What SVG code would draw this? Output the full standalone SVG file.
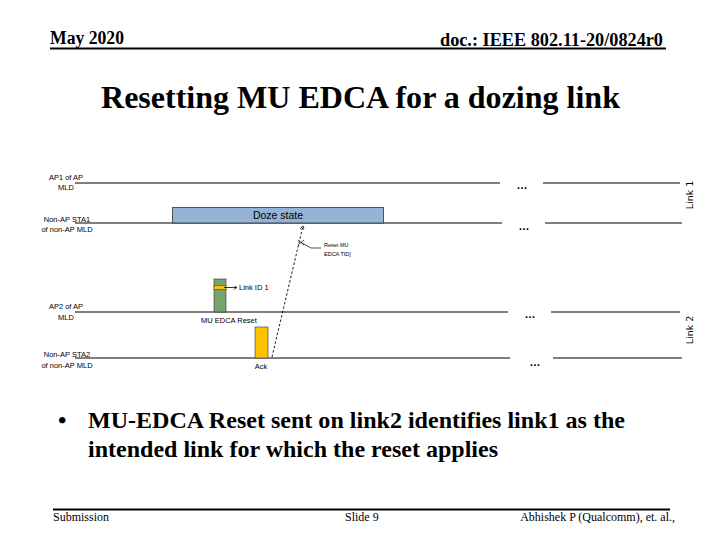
<svg xmlns="http://www.w3.org/2000/svg" width="720" height="540" viewBox="0 0 720 540">
<style>
.hdr{font-family:"Liberation Serif",serif;font-weight:bold;font-size:18px;fill:#000}
.ttl{font-family:"Liberation Serif",serif;font-weight:bold;font-size:32px;fill:#000}
.bul{font-family:"Liberation Serif",serif;font-weight:bold;font-size:24px;fill:#000}
.ftr{font-family:"Liberation Serif",serif;font-size:12px;fill:#000}
.lbl{font-family:"Liberation Sans",Arial,sans-serif;font-size:7.5px;fill:#000}
.sm{font-family:"Liberation Sans",Arial,sans-serif;font-size:5.5px;fill:#000}
.lnk{font-family:"DejaVu Sans",sans-serif;font-size:9.5px;fill:#000}
.tl{stroke:#000;stroke-width:1.2;fill:none}
.dots{font-family:"Liberation Sans",Arial,sans-serif;font-size:11px;font-weight:bold;fill:#000}
</style>
<defs>
<marker id="ah" viewBox="0 0 10 10" refX="9" refY="5" markerWidth="5" markerHeight="5" orient="auto">
<path d="M0,0 L10,5 L0,10" fill="none" stroke="#000" stroke-width="1.5"/>
</marker>
</defs>
<rect width="720" height="540" fill="#fff"/>
<g id="header">
<text class="hdr" x="50" y="44" textLength="74" lengthAdjust="spacingAndGlyphs">May 2020</text>
<text class="hdr" x="440" y="46" textLength="223" lengthAdjust="spacingAndGlyphs">doc.: IEEE 802.11-20/0824r0</text>
<line x1="50" y1="48.5" x2="666" y2="48.5" stroke="#000" stroke-width="2"/>
</g>
<g id="title">
<text class="ttl" x="101" y="108" textLength="519" lengthAdjust="spacingAndGlyphs">Resetting MU EDCA for a dozing link</text>
</g>
<g id="timelines">
<line class="tl" x1="75" y1="183" x2="500" y2="183"/>
<line class="tl" x1="543" y1="183" x2="680" y2="183"/>
<line class="tl" x1="75" y1="223" x2="502" y2="223"/>
<line class="tl" x1="545" y1="223" x2="682" y2="223"/>
<line class="tl" x1="75" y1="312" x2="508" y2="312"/>
<line class="tl" x1="551" y1="312" x2="680" y2="312"/>
<line class="tl" x1="75" y1="358" x2="510" y2="358"/>
<line class="tl" x1="553" y1="358" x2="682" y2="358"/>
<text class="dots" x="522" y="189" text-anchor="middle">…</text>
<text class="dots" x="524" y="230" text-anchor="middle">…</text>
<text class="dots" x="530" y="318" text-anchor="middle">…</text>
<text class="dots" x="535" y="366" text-anchor="middle">…</text>
</g>
<g id="labels">
<text class="lbl" x="66" y="180" text-anchor="middle">AP1 of AP</text>
<text class="lbl" x="66" y="190" text-anchor="middle">MLD</text>
<text class="lbl" x="67" y="222" text-anchor="middle">Non-AP STA1</text>
<text class="lbl" x="67" y="232" text-anchor="middle">of non-AP MLD</text>
<text class="lbl" x="66" y="309" text-anchor="middle">AP2 of AP</text>
<text class="lbl" x="66" y="320" text-anchor="middle">MLD</text>
<text class="lbl" x="67" y="357" text-anchor="middle">Non-AP STA2</text>
<text class="lbl" x="67" y="368" text-anchor="middle">of non-AP MLD</text>
<text class="lnk" transform="translate(693,195) rotate(-90)" text-anchor="middle">Link 1</text>
<text class="lnk" transform="translate(693,330) rotate(-90)" text-anchor="middle">Link 2</text>
</g>
<g id="doze">
<rect x="172.5" y="207.5" width="211" height="15.5" fill="#95B3D7" stroke="#333" stroke-width="0.8"/>
<text class="lbl" x="278" y="219" text-anchor="middle" style="font-size:10.5px">Doze state</text>
</g>
<g id="mu-edca-reset">
<rect x="214" y="279" width="12" height="33" fill="#77A46A" stroke="#333" stroke-width="0.6"/>
<rect x="214" y="285.5" width="12" height="4" fill="#FFC000" stroke="#333" stroke-width="0.5"/>
<text class="lbl" x="201" y="323">MU EDCA Reset</text>
</g>
<g id="ack">
<rect x="255" y="327" width="13" height="31" fill="#FFC000" stroke="#333" stroke-width="0.6"/>
<text class="lbl" x="261" y="369" text-anchor="middle">Ack</text>
</g>
<g id="connectors">
<line x1="224" y1="287.5" x2="237" y2="287.5" stroke="#000" stroke-width="0.8" marker-end="url(#ah)"/>
<text class="lbl" x="239" y="290">Link ID 1</text>
<line x1="272" y1="357" x2="303" y2="226" stroke="#000" stroke-width="0.9" stroke-dasharray="2.5,2" marker-end="url(#ah)"/>
<path d="M298,240 L304,245 M304,240 L298,245" stroke="#000" stroke-width="0.7"/>
<polyline points="302,243 311,248 321,248" fill="none" stroke="#000" stroke-width="0.7"/>
<text class="sm" x="324" y="247">Reset MU</text>
<text class="sm" x="324" y="256">EDCA TID]</text>
</g>
<g id="bullet">
<text class="bul" x="58" y="428">•</text>
<text class="bul" x="88" y="428" textLength="537" lengthAdjust="spacingAndGlyphs">MU-EDCA Reset sent on link2 identifies link1 as the</text>
<text class="bul" x="88" y="457" textLength="410" lengthAdjust="spacingAndGlyphs">intended link for which the reset applies</text>
</g>
<g id="footer">
<line x1="53" y1="509.5" x2="670" y2="509.5" stroke="#000" stroke-width="2"/>
<text class="ftr" x="53" y="521">Submission</text>
<text class="ftr" x="345" y="521">Slide 9</text>
<text class="ftr" x="675" y="521" text-anchor="end">Abhishek P (Qualcomm), et. al.,</text>
</g>
</svg>
